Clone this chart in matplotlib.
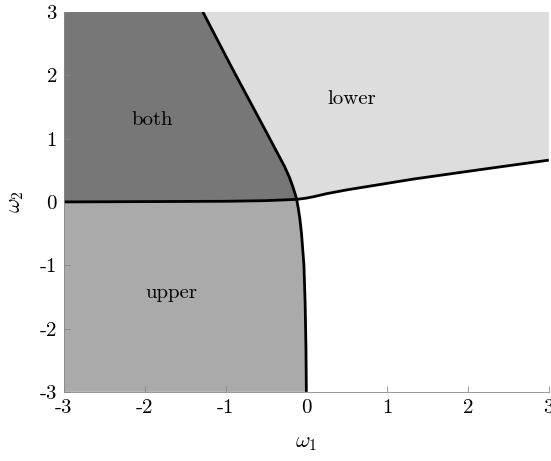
import numpy as np
import matplotlib
matplotlib.use("Agg")
import matplotlib.pyplot as plt

plt.rcParams['mathtext.fontset'] = 'cm'
plt.rcParams['font.family'] = ['cmr10', 'DejaVu Serif']
plt.rcParams['axes.unicode_minus'] = False

# boundary between "both" and "lower"
bl_x = [-1.28, -0.93, -0.49, -0.27, -0.21, -0.17, -0.14, -0.12]
bl_y = [3.0, 2.14, 1.09, 0.56, 0.39, 0.25, 0.13, 0.04]
# boundary between "both" and "upper"
bu_x = [-3.0, -2.0, -1.0, -0.5, -0.12]
bu_y = [0.0, 0.005, 0.01, 0.02, 0.04]
# boundary between "lower" and nothing
ln_x = [-0.12, 0.0, 0.1, 0.25, 0.5, 1.32, 2.15, 3.0]
ln_y = [0.04, 0.06, 0.085, 0.13, 0.19, 0.36, 0.51, 0.66]
# boundary between "upper" and nothing
un_x = [-0.12, -0.1, -0.08, -0.06, -0.03, -0.015, -0.005, 0.0]
un_y = [0.04, -0.1, -0.27, -0.5, -1.0, -1.6, -2.3, -3.0]

region_names = ["both", "lower", "upper"]
label_x = [-1.91, 0.56, -1.67]
label_y = [1.3, 1.62, -1.44]

ticks = [-3, -2, -1, 0, 1, 2, 3]
tick_labels = ["-3", "-2", "-1", "0", "1", "2", "3"]

fig = plt.figure(figsize=(5.51, 4.61), dpi=100)
ax = fig.add_axes([0.116, 0.150, 0.880, 0.824])

lo, hi = -3, 3

# polygons for the shaded regions
both_x = np.concatenate([[lo], bl_x, bu_x[::-1]])
both_y = np.concatenate([[hi], bl_y, bu_y[::-1]])
low_x = np.concatenate([[hi, hi], ln_x[::-1], bl_x[::-1]])
low_y = np.concatenate([[hi, ln_y[-1]], ln_y[::-1], bl_y[::-1]])
up_x = np.concatenate([bu_x, un_x, [lo]])
up_y = np.concatenate([bu_y, un_y, [lo]])

ax.fill(both_x, both_y, color="#777777", lw=0)
ax.fill(low_x, low_y, color="#dddddd", lw=0)
ax.fill(up_x, up_y, color="#aaaaaa", lw=0)

for bx, by in [(bl_x, bl_y), (bu_x, bu_y), (ln_x, ln_y), (un_x, un_y)]:
    ax.plot(bx, by, color="black", lw=2.0, solid_capstyle="butt")

for name, tx, ty in zip(region_names, label_x, label_y):
    ax.text(tx, ty, name, fontsize=15, ha="center", va="center")

ax.set_xlim(lo, hi)
ax.set_ylim(lo, hi)
ax.set_xticks(ticks)
ax.set_xticklabels(tick_labels)
ax.set_yticks(ticks)
ax.set_yticklabels(tick_labels)
ax.tick_params(direction="in", length=4, width=0.6, color="#888888",
               labelsize=15, pad=5)
ax.spines["top"].set_visible(False)
ax.spines["right"].set_visible(False)
for s in ["left", "bottom"]:
    ax.spines[s].set_color("#888888")
    ax.spines[s].set_linewidth(0.6)
ax.set_xlabel(r"$\omega_1$", fontsize=16, labelpad=12)
ax.set_ylabel(r"$\omega_2$", fontsize=16, labelpad=10)

fig.savefig("out.png", dpi=100)
